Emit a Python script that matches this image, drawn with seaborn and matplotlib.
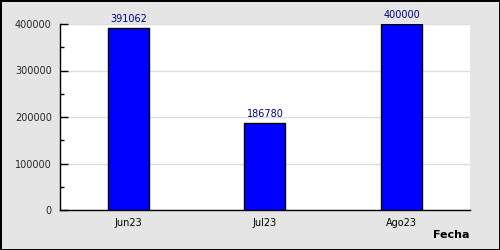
import matplotlib
matplotlib.use("Agg")
import matplotlib.pyplot as plt
import seaborn as sns
import pandas as pd
from matplotlib.ticker import MultipleLocator, FixedLocator

categories = ["Jun23", "Jul23", "Ago23"]
values = [391062, 186780, 400000]
y_ticks = [0, 100000, 200000, 300000, 400000]

df = pd.DataFrame({"Fecha": categories, "Valor": values})

sns.set_style("white")
plt.rcParams["font.family"] = ["DejaVu Sans"]

fig = plt.figure(figsize=(5, 2.5), dpi=100, facecolor="#e5e5e5",
                 edgecolor="black", linewidth=2)
ax = fig.add_axes([0.12, 0.16, 0.82, 0.744])
ax.set_facecolor("white")

sns.barplot(data=df, x="Fecha", y="Valor", color="#0000ff", edgecolor="black",
            linewidth=1, width=0.3, saturation=1, ax=ax, zorder=3)

ax.set_xlim(-0.5, 2.5)
ax.set_ylim(0, 400000)
ax.set_yticks(y_ticks)
ax.set_yticklabels([str(t) for t in y_ticks])
ax.yaxis.set_minor_locator(MultipleLocator(50000))
ax.grid(axis="y", which="major", color="#dddddd", linewidth=1, zorder=0)
ax.set_axisbelow(True)

ax.xaxis.set_minor_locator(FixedLocator([0.5, 1.5, 2.5]))
ax.tick_params(axis="x", which="major", length=0, pad=6, labelsize=7, colors="black")
ax.tick_params(axis="x", which="minor", direction="in", length=5, width=1, color="black")
ax.tick_params(axis="y", which="major", direction="in", length=6, width=1, pad=6,
               labelsize=7, color="black", left=True)
ax.tick_params(axis="y", which="minor", direction="in", length=3, width=1, color="black", left=True)

for s in ["top", "right"]:
    ax.spines[s].set_visible(False)
for s in ["left", "bottom"]:
    ax.spines[s].set_visible(True)
    ax.spines[s].set_color("black")
    ax.spines[s].set_linewidth(1)

ax.set_xlabel("")
ax.set_ylabel("")

for c in ax.containers:
    ax.bar_label(c, labels=[str(v) for v in values], padding=3, fontsize=7,
                 color="#000080")

fig.text(0.938, 0.06, "Fecha", ha="right", va="center", fontsize=8,
         fontweight="bold", color="black")

fig.savefig("out.png", dpi=100, facecolor=fig.get_facecolor(), edgecolor="black")
